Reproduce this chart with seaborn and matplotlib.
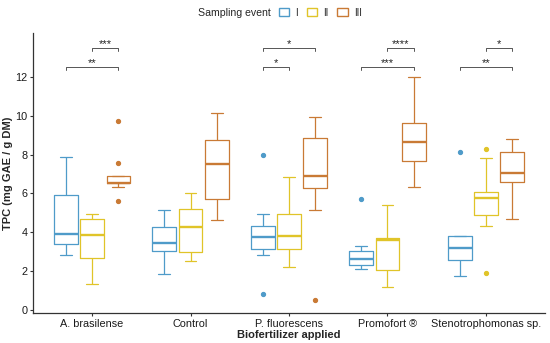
import matplotlib
matplotlib.use("Agg")
import matplotlib.pyplot as plt
from matplotlib.patches import Patch
import pandas as pd
import seaborn as sns

treatments = ["A. brasilense", "Control", "P. fluorescens", "Promofort ®", "Stenotrophomonas sp."]
events = ["I", "II", "III"]
palette = {"I": "#4F9BC9", "II": "#E0C429", "III": "#C97A35"}

# TPC observations (mg GAE / g DM), one list per treatment
tpc_I = [
    [2.83, 3.10, 3.38, 3.70, 3.94, 5.00, 5.93, 6.80, 7.89],
    [1.85, 2.60, 3.02, 3.30, 3.46, 3.90, 4.30, 4.70, 5.14],
    [0.86, 2.83, 3.14, 3.50, 3.74, 4.00, 4.34, 4.92, 7.97],
    [2.13, 2.20, 2.30, 2.50, 2.64, 2.80, 3.02, 3.31, 5.71],
    [1.77, 2.20, 2.57, 2.90, 3.21, 3.50, 3.84, 3.84, 8.14],
]
tpc_II = [
    [1.34, 2.20, 2.71, 3.40, 3.87, 4.30, 4.70, 4.80, 4.92],
    [2.54, 2.80, 2.97, 3.70, 4.29, 4.80, 5.21, 5.60, 6.05],
    [2.23, 2.80, 3.17, 3.50, 3.81, 4.40, 4.97, 5.90, 6.86],
    [1.17, 1.60, 2.06, 3.00, 3.63, 3.66, 3.70, 4.50, 5.43],
    [1.92, 4.34, 4.89, 5.30, 5.79, 5.95, 6.07, 7.83, 8.28],
]
tpc_III = [
    [5.62, 6.34, 6.53, 6.53, 6.53, 6.70, 6.89, 7.59, 9.72],
    [4.63, 5.20, 5.71, 6.60, 7.49, 8.10, 8.74, 9.40, 10.13],
    [0.55, 5.14, 6.29, 6.60, 6.91, 8.00, 8.86, 9.40, 9.91],
    [6.34, 7.00, 7.65, 8.20, 8.67, 9.10, 9.62, 10.80, 12.00],
    [4.71, 5.60, 6.58, 6.80, 7.06, 7.60, 8.14, 8.50, 8.78],
]

# significance brackets: treatment, from event, to event, label, height
sig_treatment = ["A. brasilense", "A. brasilense", "P. fluorescens", "P. fluorescens",
                 "Promofort ®", "Promofort ®", "Stenotrophomonas sp.", "Stenotrophomonas sp."]
sig_from = ["II", "I", "I", "I", "II", "I", "II", "I"]
sig_to = ["III", "III", "III", "II", "III", "III", "III", "III"]
sig_label = ["***", "**", "*", "*", "****", "***", "*", "**"]
sig_y = [13.45, 12.5, 13.45, 12.5, 13.45, 12.5, 13.45, 12.5]

rows = []
for ev, obs in zip(events, [tpc_I, tpc_II, tpc_III]):
    for tr, vals in zip(treatments, obs):
        for v in vals:
            rows.append({"treatment": tr, "event": ev, "tpc": v})
df = pd.DataFrame(rows)

sns.set_theme(style="ticks")
plt.rcParams["font.family"] = ["Liberation Sans", "DejaVu Sans"]

fig = plt.figure(figsize=(5.5, 3.43), dpi=100)
ax = fig.add_axes([0.06, 0.087, 0.931, 0.817])

sns.boxplot(data=df, x="treatment", y="tpc", hue="event", order=treatments,
            hue_order=events, palette=palette, fill=False, width=0.8, gap=0.1,
            linewidth=0.9, whis=1.5, legend=False, ax=ax,
            medianprops=dict(linewidth=1.7),
            flierprops=dict(marker="o", markersize=2.8))

# fill flier markers with their own colour
for line in ax.lines:
    if line.get_marker() == "o":
        line.set_markerfacecolor(line.get_markeredgecolor())

offsets = {"I": -0.2667, "II": 0.0, "III": 0.2667}
for tr, a, b, lab, y in zip(sig_treatment, sig_from, sig_to, sig_label, sig_y):
    i = treatments.index(tr)
    x1, x2 = i + offsets[a], i + offsets[b]
    ax.plot([x1, x1, x2, x2], [y - 0.15, y, y, y - 0.15], color="#555555", lw=0.7)
    ax.text((x1 + x2) / 2, y - 0.05, lab, ha="center", va="bottom", fontsize=8, color="#222222")

ax.set_xlim(-0.6, 4.6)
ax.set_ylim(-0.15, 14.25)
ax.set_yticks([0, 2, 4, 6, 8, 10, 12])
ax.set_xlabel("Biofertilizer applied", fontsize=8, fontweight="bold", labelpad=1)
ax.set_ylabel("TPC (mg GAE / g DM)", fontsize=8, fontweight="bold", labelpad=2)
ax.tick_params(axis="both", labelsize=7.8, length=2.5, width=0.8, colors="#333333", pad=1.5)
ax.tick_params(axis="both", labelcolor="#1a1a1a")
for s in ["left", "bottom"]:
    ax.spines[s].set_color("#333333")
    ax.spines[s].set_linewidth(0.9)
sns.despine(ax=ax)

handles = [Patch(facecolor="white", edgecolor=palette[e], linewidth=1.0) for e in events]
fig.text(0.36, 0.963, "Sampling event", fontsize=7.6, ha="left", va="center")
fig.legend(handles, events, loc="center left", bbox_to_anchor=(0.498, 0.963), ncol=3,
           frameon=False, fontsize=7, handlelength=1.1, handleheight=0.9,
           handletextpad=0.6, columnspacing=0.9, borderpad=0)

fig.savefig("out.png", dpi=100)
